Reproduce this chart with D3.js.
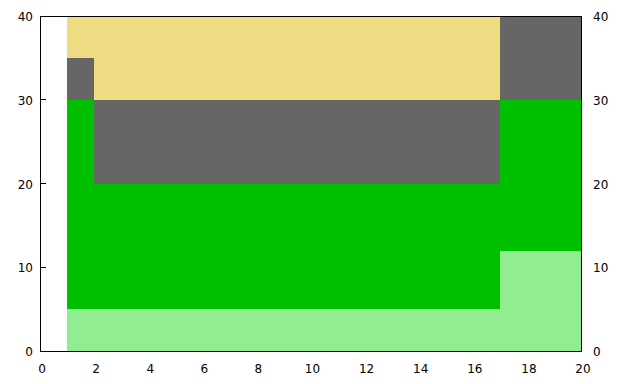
<!DOCTYPE html>
<html>
<head>
<meta charset="utf-8">
<script src="https://cdn.jsdelivr.net/npm/d3@7"></script>
<style>
  html, body { margin: 0; padding: 0; background: #fff; }
  svg { display: block; }
  text { font-family: "DejaVu Sans", sans-serif; font-size: 12px; fill: #000; }
</style>
</head>
<body>
<svg id="chart" width="640" height="384"></svg>
<script>
// Step boundaries (x) and stacked series values (value holds from x until next x)
const xSteps = [1, 2, 17, 20];
const seriesNames = ["lightgreen", "green", "grey", "khaki"];
const lightGreenVals = [5, 5, 12, 12];
const greenVals = [25, 15, 18, 18];
const greyVals = [5, 10, 10, 10];
const khakiVals = [5, 10, 0, 0];
const xTicks = [0, 2, 4, 6, 8, 10, 12, 14, 16, 18, 20];
const yTicks = [0, 10, 20, 30, 40];
const colors = ["#90ee90", "#00c000", "#666666", "#eedc82"];

const rows = xSteps.map((xv, i) => ({
  x: xv,
  lightgreen: lightGreenVals[i],
  green: greenVals[i],
  grey: greyVals[i],
  khaki: khakiVals[i]
}));

const svg = d3.select("#chart");
const mLeft = 40, mRight = 581, mTop = 16, mBottom = 351;

const x = d3.scaleLinear().domain([0, 20]).range([mLeft, mRight]);
const y = d3.scaleLinear().domain([0, 40]).range([mBottom, mTop]);

// ticks (drawn behind fills, inward)
const tickG = svg.append("g").attr("shape-rendering", "crispEdges");
tickG.append("g").selectAll("line").data(yTicks).join("line")
  .attr("x1", mLeft).attr("x2", mLeft + 6)
  .attr("y1", d => y(d)).attr("y2", d => y(d))
  .attr("stroke", "#000");
tickG.append("g").selectAll("line").data(yTicks).join("line")
  .attr("x1", mRight).attr("x2", mRight - 6)
  .attr("y1", d => y(d)).attr("y2", d => y(d))
  .attr("stroke", "#000");
tickG.append("g").selectAll("line").data(xTicks).join("line")
  .attr("x1", d => x(d)).attr("x2", d => x(d))
  .attr("y1", mBottom).attr("y2", mBottom - 6)
  .attr("stroke", "#000");

const stack = d3.stack().keys(seriesNames);
const stacked = stack(rows);

const area = d3.area()
  .curve(d3.curveStepAfter)
  .x(d => x(d.data.x))
  .y0(d => y(d[0]))
  .y1(d => y(d[1]));

svg.append("g").selectAll("path").data(stacked).join("path")
  .attr("d", area)
  .attr("fill", (d, i) => colors[i])
  .attr("shape-rendering", "crispEdges");

// border
svg.append("rect")
  .attr("x", mLeft).attr("y", mTop)
  .attr("width", mRight - mLeft).attr("height", mBottom - mTop)
  .attr("fill", "none").attr("stroke", "#000").attr("stroke-width", 1)
  .attr("shape-rendering", "crispEdges");

// labels
svg.append("g").selectAll("text").data(xTicks).join("text")
  .attr("x", d => x(d) + 2).attr("y", 373)
  .attr("text-anchor", "middle")
  .text(d => d);

svg.append("g").selectAll("text").data(yTicks).join("text")
  .attr("x", 33).attr("y", d => y(d) + 5)
  .attr("text-anchor", "end")
  .text(d => d);

svg.append("g").selectAll("text").data(yTicks).join("text")
  .attr("x", 593).attr("y", d => y(d) + 5)
  .attr("text-anchor", "start")
  .text(d => d);
</script>
</body>
</html>
